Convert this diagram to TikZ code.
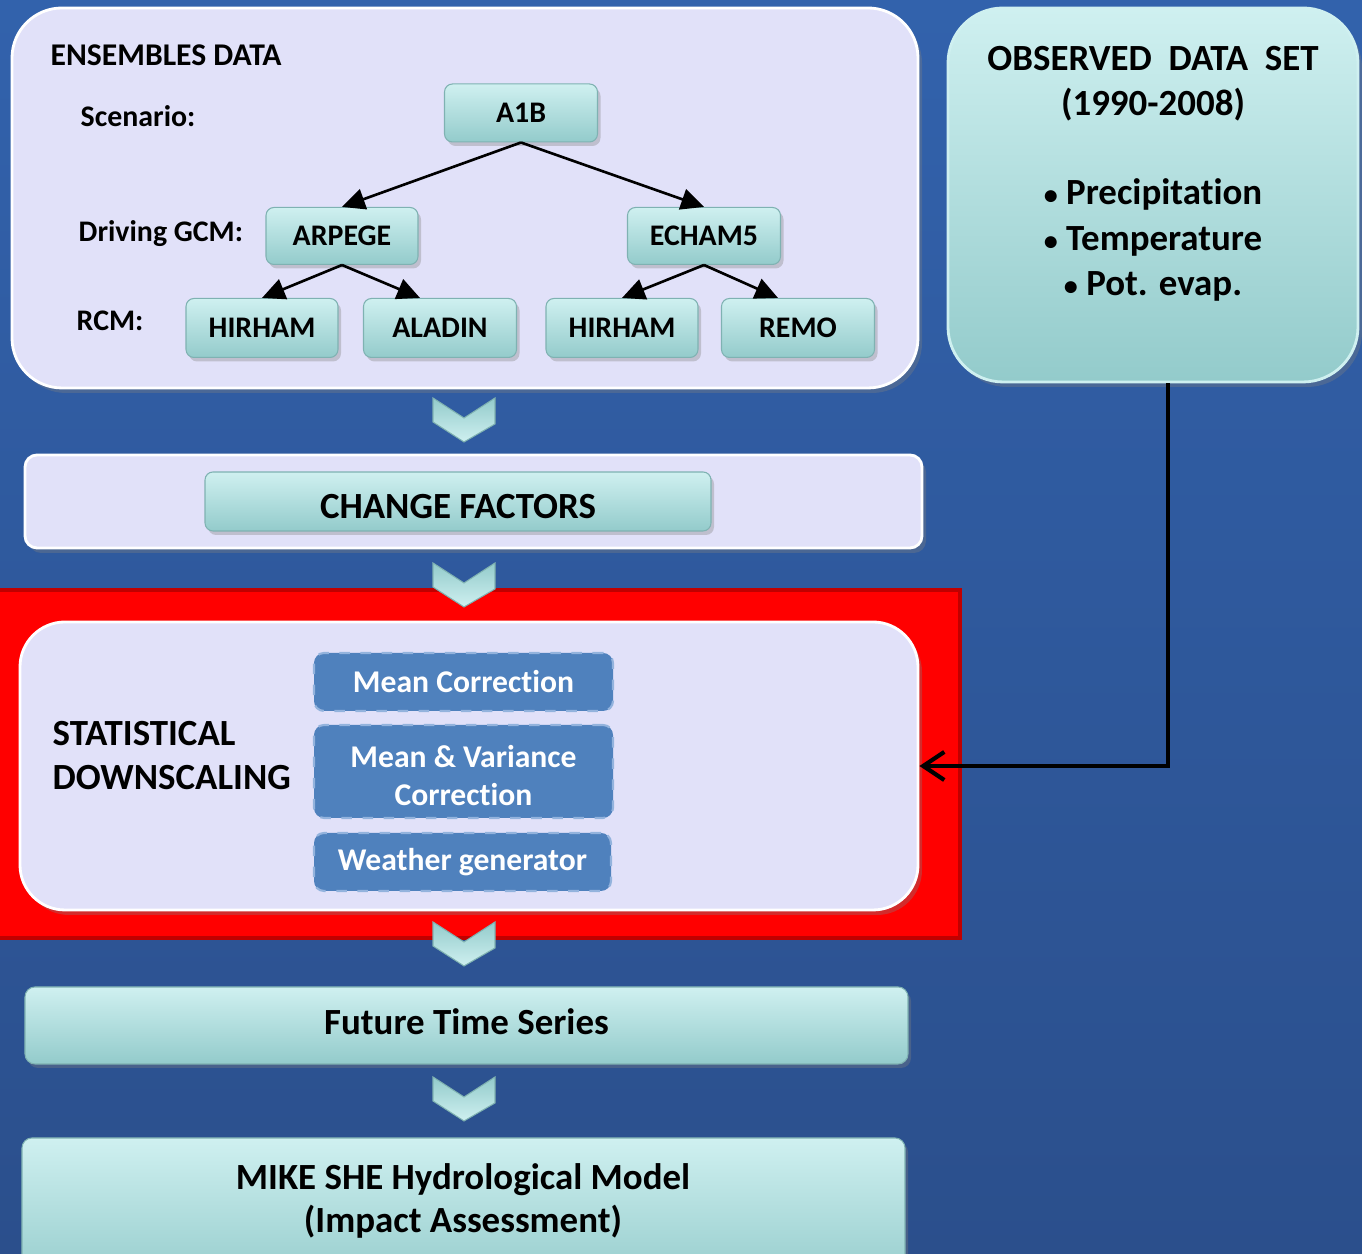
\documentclass[tikz,border=0pt]{standalone}
\usepackage{fontspec}
\setmainfont[Ligatures=NoCommon]{Carlito}
\usepackage{xcolor}
\usepackage{tikz}
\usetikzlibrary{arrows.meta,shadows}
\definecolor{BgTop}{HTML}{3262AC}
\definecolor{BgMid}{HTML}{4683CA}
\definecolor{BgLow}{HTML}{2B4F8C}
\definecolor{PanelLav}{HTML}{E1E1F9}
\definecolor{TealTop}{HTML}{CFF0F0}
\definecolor{TealLow}{HTML}{93CBCB}
\definecolor{TealEdge}{HTML}{7FB2B2}
\definecolor{StepBlue}{HTML}{4F81BD}
\definecolor{StepEdge}{HTML}{93B3DD}
\definecolor{AlertRed}{HTML}{FF0000}
\definecolor{AlertEdge}{HTML}{C00000}

\begin{document}
\begin{tikzpicture}[x=1cm,y=1cm,
  panel/.style={fill=PanelLav,draw=white,line width=.8pt,
    drop shadow={opacity=.35,shadow xshift=.04cm,shadow yshift=-.05cm}},
  tealbox/.style={top color=TealTop,bottom color=TealLow,draw=TealEdge,line width=.3pt,
    rounded corners=.08cm,inner sep=0pt,
    drop shadow={opacity=.35,shadow xshift=.03cm,shadow yshift=-.04cm}},
  stepbox/.style={fill=StepBlue,draw=StepEdge,dashed,line width=.6pt,rounded corners=.1cm,
    text=white,align=center,inner sep=0pt,font=\bfseries\fontsize{9}{10.8}\selectfont},
  treelabel/.style={font=\bfseries\fontsize{8.5}{10}\selectfont},
  treearrow/.style={-{Triangle[length=6.5pt,width=6pt]},line width=.75pt},
  feedarrow/.style={-{Straight Barb[length=6pt,width=8pt]},line width=1.2pt},
  chevron/.style={top color=TealLow,bottom color=TealTop,draw=TealEdge,line width=.3pt}]
\path[use as bounding box] (0,0) rectangle (13.62,12.54);
\shade[top color=BgTop,middle color=BgMid,bottom color=BgLow] (0,0) rectangle (13.62,12.54);

% ensembles
\node[panel,rounded corners=.5cm,minimum width=9.06cm,minimum height=3.80cm] (ens) at (4.65,10.56) {};
\node[treelabel,anchor=west,inner sep=0pt,font=\bfseries\fontsize{9}{10}\selectfont] (enstitle) at (0.50,11.99) {ENSEMBLES DATA};
\node[treelabel,anchor=west,inner sep=0pt] (scenlbl) at (0.80,11.38) {Scenario:};
\node[treelabel,anchor=west,inner sep=0pt] (gcmlbl) at (0.78,10.20) {Driving GCM:};
\node[treelabel,anchor=west,inner sep=0pt] (rcmlbl) at (0.76,9.33) {RCM:};
\node[tealbox,treelabel,minimum width=1.53cm,minimum height=.58cm] (a1b) at (5.21,11.41) {A1B};
\node[tealbox,treelabel,minimum width=1.52cm,minimum height=.57cm] (arpege) at (3.42,10.18) {ARPEGE};
\node[tealbox,treelabel,minimum width=1.53cm,minimum height=.57cm] (echam) at (7.04,10.18) {ECHAM5};
\node[tealbox,treelabel,minimum width=1.52cm,minimum height=.59cm] (hirhamA) at (2.62,9.26) {HIRHAM};
\node[tealbox,treelabel,minimum width=1.53cm,minimum height=.59cm] (aladin) at (4.40,9.26) {ALADIN};
\node[tealbox,treelabel,minimum width=1.52cm,minimum height=.59cm] (hirhamB) at (6.22,9.26) {HIRHAM};
\node[tealbox,treelabel,minimum width=1.53cm,minimum height=.59cm] (remo) at (7.98,9.26) {REMO};
\draw[treearrow] (a1b.south) -- (arpege.north);
\draw[treearrow] (a1b.south) -- (echam.north);
\draw[treearrow] (arpege.south) -- (hirhamA.north);
\draw[treearrow] (arpege.south) -- ([xshift=-.2cm]aladin.north);
\draw[treearrow] (echam.south) -- (hirhamB.north);
\draw[treearrow] (echam.south) -- ([xshift=-.2cm]remo.north);

% observed data
\node[panel,top color=TealTop,bottom color=TealLow,draw=TealTop,rounded corners=.55cm,
  minimum width=4.10cm,minimum height=3.74cm] (obs) at (11.53,10.59) {};
\node[align=center,font=\bfseries\fontsize{10.5}{12.8}\selectfont] (obstitle) at (11.53,11.70)
  {OBSERVED\ \ DATA\ \ SET\\(1990-2008)};
\node[align=center,font=\bfseries\fontsize{10.5}{12.9}\selectfont] (obsvars) at (11.53,10.14)
  {{\fontsize{8}{8}\selectfont•} Precipitation\\{\fontsize{8}{8}\selectfont•} Temperature\\{\fontsize{8}{8}\selectfont•} Pot. evap.};

% change factors
\node[panel,rounded corners=.12cm,minimum width=8.97cm,minimum height=.93cm] (cfpanel) at (4.735,7.525) {};
\node[tealbox,minimum width=5.06cm,minimum height=.59cm,text height=.34cm,text depth=0pt,
  font=\bfseries\fontsize{10.5}{12}\selectfont] (cf) at (4.58,7.525) {CHANGE FACTORS};

% statistical downscaling
\filldraw[fill=AlertRed,draw=AlertEdge,line width=1pt] (-.1,3.16) rectangle (9.60,6.64);
\node[panel,rounded corners=.45cm,minimum width=8.98cm,minimum height=2.88cm] (sd) at (4.69,4.88) {};
\node[anchor=west,align=left,inner sep=0pt,font=\bfseries\fontsize{10.5}{12.5}\selectfont] (sdtitle) at (0.52,4.98)
  {STATISTICAL\\DOWNSCALING};
\node[stepbox,minimum width=2.99cm,minimum height=.58cm] (meancorr) at (4.635,5.72) {Mean Correction};
\node[stepbox,minimum width=2.99cm,minimum height=.93cm] (varcorr) at (4.635,4.825) {\rule{0pt}{.3cm}Mean \& Variance\\Correction};
\node[stepbox,minimum width=2.97cm,minimum height=.58cm] (weather) at (4.625,3.92) {Weather generator};
\draw[feedarrow] ([xshift=.15cm]obs.south) |- (sd.east);

% outputs
\node[tealbox,rounded corners=.1cm,minimum width=8.83cm,minimum height=.77cm,text depth=.08cm,
  font=\bfseries\fontsize{10.5}{12}\selectfont] (future) at (4.665,2.285) {Future Time Series};
\node[tealbox,rounded corners=.1cm,minimum width=8.83cm,minimum height=1.50cm] (mike) at (4.635,0.41) {};
\node[align=center,font=\bfseries\fontsize{10.5}{12.5}\selectfont] (miketext) at (4.63,0.53)
  {MIKE SHE Hydrological Model\\(Impact Assessment)};

% chevrons
\filldraw[chevron] (4.33,8.56) -- (4.64,8.36) -- (4.95,8.56) -- (4.95,8.30) -- (4.64,8.12) -- (4.33,8.32) -- cycle;
\filldraw[chevron] (4.33,6.91) -- (4.64,6.71) -- (4.95,6.91) -- (4.95,6.65) -- (4.64,6.47) -- (4.33,6.67) -- cycle;
\filldraw[chevron] (4.33,3.32) -- (4.64,3.12) -- (4.95,3.32) -- (4.95,3.06) -- (4.64,2.88) -- (4.33,3.08) -- cycle;
\filldraw[chevron] (4.33,1.77) -- (4.64,1.57) -- (4.95,1.77) -- (4.95,1.51) -- (4.64,1.33) -- (4.33,1.53) -- cycle;
\end{tikzpicture}
\end{document}
